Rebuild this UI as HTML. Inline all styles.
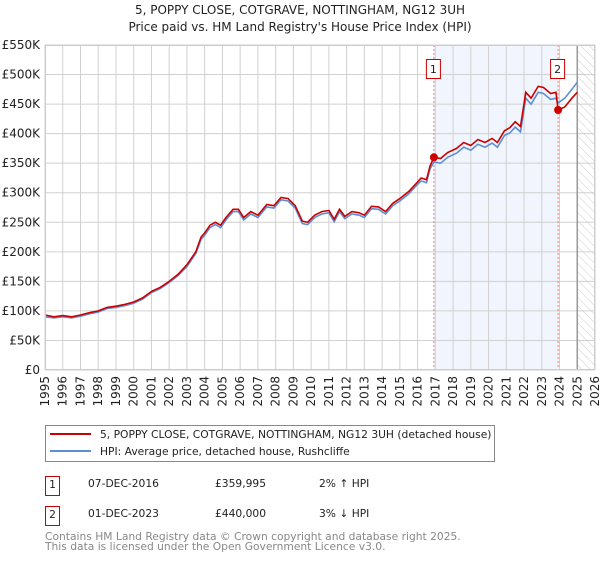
<!DOCTYPE html>
<html><head><meta charset="utf-8"><style>
body{margin:0;background:#fff;font-family:"DejaVu Sans","Liberation Sans",sans-serif}
svg text{font-family:"DejaVu Sans","Liberation Sans",sans-serif}
</style></head><body>
<svg width="600" height="560" viewBox="0 0 600 560" xmlns="http://www.w3.org/2000/svg">
<defs><pattern id="hatch" width="6" height="6" patternUnits="userSpaceOnUse" patternTransform="rotate(-45)"><line x1="0" y1="0" x2="0" y2="6" stroke="#ccc" stroke-width="1"/></pattern></defs>
<text x="300" y="14" text-anchor="middle" font-size="12" fill="#222">5, POPPY CLOSE, COTGRAVE, NOTTINGHAM, NG12 3UH</text>
<text x="300" y="31" text-anchor="middle" font-size="12" fill="#222">Price paid vs. HM Land Registry's House Price Index (HPI)</text>
<g id="plot"></g>
<g id="legend">
<rect x="45.5" y="425.5" width="449" height="36" fill="#fff" stroke="#888"/>
<line x1="50" y1="434" x2="91" y2="434" stroke="#cc0000" stroke-width="2"/>
<text x="100" y="438" font-size="10.7" fill="#222">5, POPPY CLOSE, COTGRAVE, NOTTINGHAM, NG12 3UH (detached house)</text>
<line x1="50" y1="451" x2="91" y2="451" stroke="#5b8fd4" stroke-width="2"/>
<text x="100" y="455" font-size="10.7" fill="#222">HPI: Average price, detached house, Rushcliffe</text>
</g>
<g font-size="10.7" fill="#222">
<rect x="45.5" y="476.5" width="14" height="19" fill="#fff" stroke="#cc0000"/>
<text x="52.5" y="488" text-anchor="middle">1</text>
<text x="88" y="487">07-DEC-2016</text><text x="215" y="487">£359,995</text><text x="319" y="487">2% ↑ HPI</text>
</g>
<g font-size="10.7" fill="#222">
<rect x="45.5" y="506.5" width="14" height="19" fill="#fff" stroke="#cc0000"/>
<text x="52.5" y="518" text-anchor="middle">2</text>
<text x="88" y="517">01-DEC-2023</text><text x="215" y="517">£440,000</text><text x="319" y="517">3% ↓ HPI</text>
</g>
<text x="45" y="540" font-size="10.7" fill="#888">Contains HM Land Registry data © Crown copyright and database right 2025.</text>
<text x="45" y="550" font-size="10.7" fill="#888">This data is licensed under the Open Government Licence v3.0.</text>
</svg>
<script>
const dates=[1995,1995.5,1996,1996.5,1997,1997.5,1998,1998.5,1999,1999.5,2000,2000.5,2001,2001.5,2002,2002.5,2003,2003.5,2003.8,2004,2004.3,2004.6,2004.9,2005.2,2005.6,2005.9,2006.2,2006.6,2007,2007.5,2007.9,2008.3,2008.7,2009.1,2009.5,2009.8,2010.2,2010.6,2011,2011.3,2011.6,2011.9,2012.3,2012.7,2013,2013.4,2013.8,2014.2,2014.6,2015,2015.5,2015.9,2016.2,2016.5,2016.7,2016.92,2017.3,2017.7,2018.2,2018.6,2019,2019.4,2019.8,2020.2,2020.5,2020.9,2021.2,2021.5,2021.8,2022.1,2022.4,2022.8,2023.1,2023.5,2023.8,2023.92,2024.3,2024.7,2025.0];
const priceValues=[93,90,92,90,93,97,100,106,108,111,115,122,133,140,150,162,178,200,225,232,245,250,245,258,272,272,258,268,262,280,278,292,290,278,252,250,262,268,270,255,272,260,268,266,262,277,276,268,282,290,302,315,325,322,345,360,358,368,375,385,380,390,385,392,385,405,410,420,412,470,460,480,478,468,470,440,445,460,470];
const hpiValues=[90,88,90,88,91,95,98,104,106,109,113,120,131,138,148,160,175,197,221,228,241,246,241,254,268,268,254,264,258,276,274,288,286,274,248,246,258,264,266,251,268,256,264,262,258,273,272,264,278,286,298,311,320,317,340,352,350,360,367,377,372,382,377,384,377,397,401,411,403,460,450,470,468,458,460,452,460,475,487];
const sales=[[2016.92,359.995,'1'],[2023.92,440,'2']];
const yTicks=[0,50,100,150,200,250,300,350,400,450,500,550];
const yTickLabels=['£0','£50K','£100K','£150K','£200K','£250K','£300K','£350K','£400K','£450K','£500K','£550K'];
const years=[1995,1996,1997,1998,1999,2000,2001,2002,2003,2004,2005,2006,2007,2008,2009,2010,2011,2012,2013,2014,2015,2016,2017,2018,2019,2020,2021,2022,2023,2024,2025,2026];
const L=45,R=595,T=45,B=370;
const x=d=>L+(d-1995)/(2026-1995)*(R-L);
const y=v=>B-v/550*(B-T);
const NS='http://www.w3.org/2000/svg';
const g=document.getElementById('plot');
function mk(t,a){const e=document.createElementNS(NS,t);for(const k in a)e.setAttribute(k,a[k]);g.appendChild(e);return e;}
let e=mk('rect',{x:x(2016.92),y:T,width:x(2023.92)-x(2016.92),height:B-T,fill:'#eef3fc',opacity:0.8});


e=mk('rect',{x:x(2025),y:T,width:R-x(2025),height:B-T,fill:'url(#hatch)'});


yTicks.forEach((v,i)=>{
 let l=mk('line',{x1:L,x2:R,y1:y(v),y2:y(v),stroke:'#d0d0d0'});
 
 
 let t=mk('text',{x:L-5,y:y(v)+4,'text-anchor':'end','font-size':'12',fill:'#222'});
 t.textContent=yTickLabels[i];
 
 
});
years.forEach(yr=>{
 let l=mk('line',{x1:x(yr),x2:x(yr),y1:T,y2:B,stroke:'#d0d0d0'});
 
 
 let t=mk('text',{x:0,y:0,'text-anchor':'end','font-size':'12',fill:'#222',transform:`translate(${x(yr)+4},376) rotate(-90)`});
 t.textContent=yr;
 
 
});
e=mk('line',{x1:x(2025),x2:x(2025),y1:T,y2:B,stroke:'#999',"stroke-width":1.5});


sales.forEach(s=>{
 let l=mk('line',{x1:x(s[0]),x2:x(s[0]),y1:T,y2:B,stroke:'#e06060','stroke-dasharray':'2,2','stroke-width':0.8});
 
 
});
const pts=a=>a.map((v,i)=>x(dates[i]).toFixed(1)+','+y(v).toFixed(1)).join(' ');
e=mk('polyline',{points:pts(hpiValues),fill:'none',stroke:'#5b8fd4','stroke-width':1.6});


e=mk('polyline',{points:pts(priceValues),fill:'none',stroke:'#cc0000','stroke-width':1.6});


sales.forEach(s=>{
 let c=mk('circle',{cx:x(s[0]),cy:y(s[1]),r:4,fill:'#cc0000'});
 
 
 let r=mk('rect',{x:x(s[0])-7.5,y:59.5,width:14,height:19,fill:'#fff',stroke:'#cc0000'});
 
 
 let t=mk('text',{x:x(s[0])-0.5,y:73,'text-anchor':'middle','font-size':'11',fill:'#222'});
 t.textContent=s[2];
 
 
});
e=mk('rect',{x:L+0.5,y:T+0.5,width:R-L-1,height:B-T-1,fill:'none',stroke:'#ccc'});


</script>
</body></html>
